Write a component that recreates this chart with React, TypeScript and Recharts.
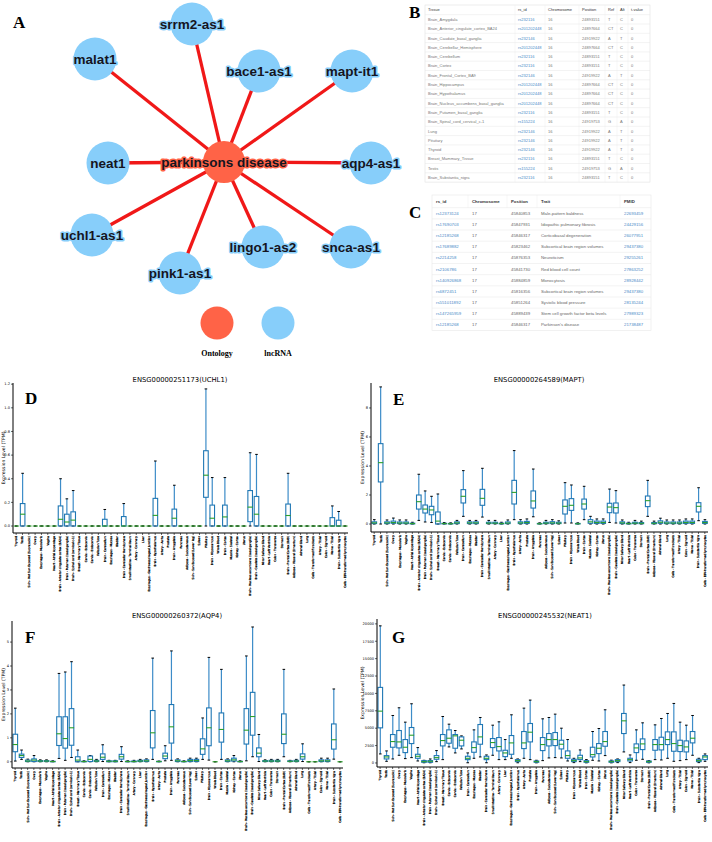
import React from 'react';
import { ComposedChart, Bar, XAxis, YAxis, ScatterChart, Scatter, Label } from 'recharts';

// ---------- Panel A: network ----------
const hubNode = { name: 'parkinsons disease', x: 224, y: 162, kind: 'ontology' };
const lncNodes = [
  { name: 'srrm2-as1', x: 192, y: 24 },
  { name: 'malat1', x: 95, y: 59 },
  { name: 'bace1-as1', x: 259, y: 71 },
  { name: 'mapt-it1', x: 352, y: 71 },
  { name: 'neat1', x: 108, y: 163 },
  { name: 'aqp4-as1', x: 371, y: 163 },
  { name: 'uchl1-as1', x: 92, y: 235 },
  { name: 'pink1-as1', x: 180, y: 273 },
  { name: 'lingo1-as2', x: 263, y: 247 },
  { name: 'snca-as1', x: 351, y: 247 },
];
const legendNodes = [
  { name: 'Ontology', x: 217, y: 323, kind: 'ontology' },
  { name: 'lncRNA', x: 278, y: 323, kind: 'lnc' },
];

// ---------- Panel B table ----------
const tableBHeader = ['Tissue', 'rs_id', 'Chromosome', 'Position', 'Ref', 'Alt', 't-value'];
const tissueB = ['Brain_Amygdala', 'Brain_Anterior_cingulate_cortex_BA24', 'Brain_Caudate_basal_ganglia', 'Brain_Cerebellar_Hemisphere', 'Brain_Cerebellum', 'Brain_Cortex', 'Brain_Frontal_Cortex_BA9', 'Brain_Hippocampus', 'Brain_Hypothalamus', 'Brain_Nucleus_accumbens_basal_ganglia', 'Brain_Putamen_basal_ganglia', 'Brain_Spinal_cord_cervical_c-1', 'Lung', 'Pituitary', 'Thyroid', 'Breast_Mammary_Tissue', 'Testis', 'Brain_Substantia_nigra'];
const rsB = ['rs232116', 'rs201202448', 'rs232146', 'rs201202448', 'rs232116', 'rs232116', 'rs232146', 'rs201202448', 'rs201202448', 'rs201202448', 'rs232116', 'rs155224', 'rs232146', 'rs232146', 'rs232146', 'rs232116', 'rs155224', 'rs232116'];
const chromB = ['16', '16', '16', '16', '16', '16', '16', '16', '16', '16', '16', '16', '16', '16', '16', '16', '16', '16'];
const posB = ['24893151', '24897664', '24919922', '24897664', '24893151', '24893151', '24919922', '24897664', '24897664', '24897664', '24893151', '24919753', '24919922', '24919922', '24919922', '24893151', '24919753', '24893151'];
const refB = ['T', 'CT', 'A', 'CT', 'T', 'T', 'A', 'CT', 'CT', 'CT', 'T', 'G', 'A', 'A', 'A', 'T', 'G', 'T'];
const altB = ['C', 'C', 'T', 'C', 'C', 'C', 'T', 'C', 'C', 'C', 'C', 'A', 'T', 'T', 'T', 'C', 'A', 'C'];
const tvalB = ['0', '0', '0', '0', '0', '0', '0', '0', '0', '0', '0', '0', '0', '0', '0', '0', '0', '0'];

// ---------- Panel C table ----------
const tableCHeader = ['rs_id', 'Chromosome', 'Position', 'Trait', 'PMID'];
const rsC = ['rs12373124', 'rs17690703', 'rs12185268', 'rs17689882', 'rs2214258', 'rs2106786', 'rs140926868', 'rs6872451', 'rs551011892', 'rs147265959', 'rs12185268'];
const chromC = ['17', '17', '17', '17', '17', '17', '17', '17', '17', '17', '17'];
const posC = ['45840853', '45847931', '45846317', '45823462', '45876353', '45841730', '45884859', '45816356', '45851264', '45889439', '45846317'];
const traitC = ['Male-pattern baldness', 'Idiopathic pulmonary fibrosis', 'Corticobasal degeneration', 'Subcortical brain region volumes', 'Neuroticism', 'Red blood cell count', 'Monocytosis', 'Subcortical brain region volumes', 'Systolic blood pressure', 'Stem cell growth factor beta levels', "Parkinson's disease"];
const pmidC = ['22693459', '24429156', '26077951', '29437380', '29255261', '27863252', '28928442', '29437380', '28135244', '27989323', '21738487'];

// ---------- Panels D-G: GTEx expression ----------
const tissues = ['Thyroid', 'Testis', 'Skin - Not Sun Exposed (Suprapubic)', 'Ovary', 'Esophagus - Muscularis', 'Vagina', 'Heart - Atrial Appendage', 'Brain - Anterior cingulate cortex (BA24)', 'Brain - Putamen (basal ganglia)', 'Brain - Spinal cord (cervical c-1)', 'Breast - Mammary Tissue', 'Cervix - Ectocervix', 'Cervix - Endocervix', 'Fallopian Tube', 'Brain - Cerebellum', 'Esophagus - Mucosa', 'Bladder', 'Brain - Cerebellar Hemisphere', 'Small Intestine - Terminal Ileum', 'Artery - Coronary', 'Liver', 'Esophagus - Gastroesophageal Junction', 'Brain - Hypothalamus', 'Artery - Aorta', 'Prostate', 'Brain - Amygdala', 'Pancreas', 'Adipose - Subcutaneous', 'Skin - Sun Exposed (Lower leg)', 'Spleen', 'Pituitary', 'Brain - Hippocampus', 'Whole Blood', 'Brain - Cortex', 'Muscle - Skeletal', 'Kidney - Cortex', 'Uterus', 'Brain - Nucleus accumbens (basal ganglia)', 'Brain - Caudate (basal ganglia)', 'Minor Salivary Gland', 'Heart - Left Ventricle', 'Colon - Transverse', 'Stomach', 'Brain - Frontal Cortex (BA9)', 'Adipose - Visceral (Omentum)', 'Adrenal Gland', 'Lung', 'Cells - Transformed fibroblasts', 'Artery - Tibial', 'Colon - Sigmoid', 'Nerve - Tibial', 'Brain - Substantia nigra', 'Cells - EBV-transformed lymphocytes'];

// [lower whisker, q1, median, q3, upper whisker]
const uchl1Stats = [
  [0, 0, 0, 0, 0], [0, 0, 0.10, 0.19, 0.446], [0, 0, 0, 0, 0], [0, 0, 0, 0, 0], [0, 0, 0, 0, 0],
  [0, 0, 0, 0, 0], [0, 0, 0, 0, 0], [0, 0, 0.057, 0.17, 0.40], [0, 0, 0.034, 0.10, 0.23], [0, 0, 0.05, 0.12, 0.30],
  [0, 0, 0, 0, 0], [0, 0, 0, 0, 0], [0, 0, 0, 0, 0], [0, 0, 0, 0, 0], [0, 0, 0, 0.057, 0.14],
  [0, 0, 0, 0, 0], [0, 0, 0, 0, 0], [0, 0, 0, 0.08, 0.19], [0, 0, 0, 0, 0], [0, 0, 0, 0, 0],
  [0, 0, 0, 0, 0], [0, 0, 0, 0, 0], [0, 0, 0.09, 0.234, 0.55], [0, 0, 0, 0, 0], [0, 0, 0, 0, 0],
  [0, 0, 0.066, 0.143, 0.345], [0, 0, 0, 0, 0], [0, 0, 0, 0, 0], [0, 0, 0, 0, 0], [0, 0, 0, 0, 0],
  [0, 0.243, 0.43, 0.637, 1.16], [0, 0, 0.066, 0.177, 0.41], [0, 0, 0, 0, 0], [0, 0, 0.077, 0.177, 0.41], [0, 0, 0, 0, 0],
  [0, 0, 0, 0, 0], [0, 0, 0, 0, 0], [0, 0.037, 0.16, 0.30, 0.62], [0, 0, 0.10, 0.25, 0.606], [0, 0, 0, 0, 0],
  [0, 0, 0, 0, 0], [0, 0, 0, 0, 0], [0, 0, 0, 0, 0], [0, 0, 0.089, 0.186, 0.446], [0, 0, 0, 0, 0],
  [0, 0, 0, 0, 0], [0, 0, 0, 0, 0], [0, 0, 0, 0, 0], [0, 0, 0, 0, 0], [0, 0, 0, 0, 0],
  [0, 0, 0, 0.071, 0.17], [0, 0, 0, 0.049, 0.123], [0, 0, 0, 0, 0],
];
const maptStats = [
  [0, 0.03, 0.08, 0.15, 0.3], [0, 2.9, 4.23, 5.54, 9.45], [0, 0.03, 0.08, 0.15, 0.28], [0, 0.05, 0.1, 0.2, 0.41], [0, 0.03, 0.07, 0.14, 0.28],
  [0, 0.03, 0.07, 0.14, 0.28], [0, 0.01, 0.03, 0.06, 0.12], [0.25, 1.03, 1.54, 2.0, 3.43], [0.14, 0.76, 1.03, 1.31, 2.28], [0.11, 0.64, 0.97, 1.22, 1.91],
  [0, 0, 0.2, 0.83, 2.07], [0, 0.01, 0.03, 0.05, 0.1], [0, 0.01, 0.02, 0.04, 0.08], [0, 0.03, 0.08, 0.15, 0.25], [0.53, 1.45, 1.91, 2.37, 3.68],
  [0, 0.03, 0.08, 0.15, 0.25], [0, 0.03, 0.08, 0.15, 0.25], [0.48, 1.29, 1.77, 2.39, 3.84], [0, 0.03, 0.06, 0.12, 0.25], [0, 0.03, 0.06, 0.12, 0.25],
  [0, 0.01, 0.03, 0.06, 0.12], [0, 0.03, 0.07, 0.14, 0.28], [0.3, 1.38, 2.18, 3.01, 5.06], [0, 0.03, 0.08, 0.15, 0.3], [0, 0.04, 0.1, 0.18, 0.35],
  [0.5, 1.1, 1.59, 2.28, 3.79], [0, 0.01, 0.02, 0.04, 0.08], [0, 0.03, 0.06, 0.12, 0.25], [0, 0.03, 0.08, 0.16, 0.3], [0, 0.03, 0.06, 0.12, 0.22],
  [0.07, 0.69, 1.22, 1.66, 2.85], [0.07, 0.94, 1.29, 1.75, 2.69], [0, 0.01, 0.02, 0.04, 0.08], [0.3, 1.03, 1.38, 1.72, 2.6], [0, 0.05, 0.15, 0.3, 0.53],
  [0, 0.04, 0.1, 0.2, 0.35], [0, 0.04, 0.1, 0.2, 0.35], [0.11, 0.78, 1.17, 1.43, 2.41], [0.07, 0.76, 1.13, 1.45, 2.3], [0, 0.03, 0.08, 0.15, 0.28],
  [0, 0.01, 0.03, 0.06, 0.12], [0, 0.03, 0.06, 0.12, 0.25], [0, 0.02, 0.05, 0.1, 0.2], [0.53, 1.2, 1.61, 1.93, 3.01], [0, 0.02, 0.05, 0.1, 0.2],
  [0, 0.05, 0.12, 0.22, 0.4], [0, 0.03, 0.07, 0.14, 0.28], [0, 0.03, 0.07, 0.14, 0.28], [0, 0.03, 0.07, 0.14, 0.28], [0, 0.04, 0.1, 0.2, 0.35],
  [0, 0.04, 0.1, 0.2, 0.35], [0.23, 0.83, 1.22, 1.47, 2.5], [0, 0.04, 0.1, 0.18, 0.3],
];
const aqp4Stats = [
  [0.03, 0.42, 0.72, 1.15, 2.24], [0.1, 0.18, 0.26, 0.32, 0.49], [0, 0.01, 0.03, 0.07, 0.11], [0, 0.01, 0.07, 0.12, 0.26], [0, 0.01, 0.03, 0.05, 0.08],
  [0, 0.01, 0.03, 0.05, 0.08], [0, 0, 0.01, 0.02, 0.04], [0.14, 0.68, 1.17, 1.88, 3.69], [0.06, 0.57, 0.97, 1.88, 3.75], [0.18, 0.69, 1.42, 2.22, 4.18],
  [0, 0, 0.07, 0.21, 0.49], [0, 0, 0.01, 0.02, 0.04], [0, 0.01, 0.1, 0.24, 0.26], [0, 0.01, 0.03, 0.06, 0.1], [0.01, 0.1, 0.19, 0.33, 0.71],
  [0, 0, 0.02, 0.04, 0.06], [0, 0, 0.02, 0.04, 0.06], [0.01, 0.11, 0.21, 0.31, 0.63], [0, 0, 0.01, 0.02, 0.04], [0, 0, 0.01, 0.03, 0.06],
  [0, 0.01, 0.03, 0.06, 0.1], [0, 0.01, 0.04, 0.08, 0.12], [0.1, 0.58, 1.21, 2.14, 4.33], [0, 0, 0.01, 0.02, 0.03], [0.04, 0.13, 0.24, 0.36, 0.67],
  [0.06, 0.78, 1.46, 2.39, 4.63], [0, 0.01, 0.04, 0.08, 0.12], [0, 0, 0.01, 0.02, 0.04], [0, 0.01, 0.05, 0.1, 0.15], [0, 0.01, 0.05, 0.1, 0.15],
  [0.1, 0.31, 0.54, 0.96, 1.83], [0.07, 0.67, 1.42, 2.25, 4.36], [0, 0, 0, 0, 0], [0.1, 0.82, 1.35, 2.04, 3.86], [0, 0.01, 0.04, 0.08, 0.12],
  [0, 0.03, 0.08, 0.15, 0.26], [0, 0, 0.01, 0.02, 0.04], [0.04, 0.74, 1.32, 2.22, 4.42], [0.21, 1.11, 1.89, 2.9, 5.63], [0.01, 0.21, 0.36, 0.58, 1.14],
  [0, 0.01, 0.03, 0.05, 0.08], [0, 0.01, 0.03, 0.06, 0.1], [0, 0.01, 0.03, 0.06, 0.1], [0.21, 0.76, 1.15, 2.0, 3.86], [0, 0.01, 0.02, 0.04, 0.06],
  [0, 0.01, 0.03, 0.06, 0.1], [0.01, 0.11, 0.21, 0.33, 0.75], [0, 0, 0, 0, 0], [0, 0, 0, 0, 0], [0, 0.01, 0.04, 0.08, 0.15],
  [0, 0.01, 0.04, 0.08, 0.15], [0.11, 0.53, 0.92, 1.58, 3.04], [0, 0, 0, 0, 0],
];
const neat1Stats = [
  [1298, 5048, 7452, 10866, 19712], [240, 577, 865, 1058, 1731], [577, 2260, 3077, 4087, 6827], [1106, 2164, 3029, 4664, 7933], [625, 1490, 2260, 3366, 5866],
  [769, 2789, 3991, 5097, 8510], [288, 673, 962, 1250, 2212], [30, 96, 192, 337, 385], [30, 96, 240, 337, 577], [192, 529, 769, 1058, 1779],
  [481, 2452, 3221, 4087, 6683], [2308, 2837, 3558, 4760, 5577], [1442, 2116, 3900, 4087, 4664], [2019, 2452, 3270, 3750, 3895], [30, 481, 673, 962, 1442],
  [673, 1539, 2212, 3029, 4760], [865, 2693, 3750, 5529, 6539], [30, 481, 673, 962, 1154], [1106, 2212, 2933, 3510, 5433], [481, 1731, 2356, 3654, 5914],
  [481, 914, 1442, 1827, 3366], [673, 1250, 2885, 3943, 6924], [30, 192, 337, 481, 577], [673, 2067, 2885, 4520, 7885], [481, 3029, 4424, 5674, 9039],
  [20, 96, 192, 288, 385], [337, 1779, 2645, 3654, 6347], [721, 2452, 3366, 4231, 6539], [769, 2500, 3366, 4375, 7020], [721, 2019, 2693, 3270, 5000],
  [288, 673, 1058, 1731, 3366], [50, 192, 337, 529, 673], [192, 481, 721, 1106, 1875], [20, 96, 192, 337, 481], [385, 865, 1202, 2260, 4520],
  [288, 1346, 2116, 2789, 4952], [1058, 2404, 3077, 4520, 7645], [20, 96, 192, 288, 400], [50, 192, 337, 481, 577], [1587, 4231, 6058, 7116, 11202],
  [50, 288, 481, 673, 1154], [385, 1490, 2164, 2741, 4760], [529, 1923, 2741, 3462, 5770], [20, 96, 192, 288, 337], [481, 1827, 2645, 3366, 5481],
  [433, 1875, 2645, 3702, 6395], [673, 2645, 3366, 4472, 7116], [240, 1683, 2789, 4472, 8558], [337, 1635, 2500, 3270, 5866], [481, 1587, 2308, 3173, 5433],
  [1106, 2885, 3558, 4520, 6827], [50, 192, 337, 529, 673], [240, 481, 865, 1058, 1298],
];

const uchl1Ticks = [0, 0.2, 0.4, 0.6, 0.8, 1.0, 1.2];
const maptTicks = [0, 2, 4, 6, 8];
const aqp4Ticks = [0, 1, 2, 3, 4, 5];
const neat1Ticks = [0, 2500, 5000, 7500, 10000, 12500, 15000, 17500, 20000];

// ---------- styles ----------
const BLUE_NODE = '#87cefa';
const ORANGE_NODE = '#ff6347';
const EDGE = '#f01818';
const BOX = '#1f77b4';
const WHISKER = '#3d8cc8';
const MEDIAN = '#2ca02c';
const SANS = 'Liberation Sans, Arial, sans-serif';
const SERIF = 'Liberation Serif, Times New Roman, serif';
const MPL = 'DejaVu Sans, sans-serif';

const EmptyShape = () => <g />;

const NodeShape = (props: any) => {
  const { cx, cy, payload } = props;
  if (cx == null || cy == null) return <g />;
  const isHub = payload.kind === 'ontology';
  const fill = isHub ? ORANGE_NODE : BLUE_NODE;
  const r = isHub ? 21 : 21.5;
  return (
    <g>
      <circle cx={cx} cy={cy} r={r} fill={fill} />
      <text x={cx} y={cy} textAnchor="middle" dominantBaseline="central" fontFamily={SANS} fontWeight="bold" fontSize={13.5}
        fill="#15151f" stroke={fill} strokeWidth={3} strokeLinejoin="round" style={{ paintOrder: 'stroke' }}>
        {payload.name}
      </text>
    </g>
  );
};

const LegendShape = (props: any) => {
  const { cx, cy, payload } = props;
  if (cx == null || cy == null) return <g />;
  const fill = payload.kind === 'ontology' ? ORANGE_NODE : BLUE_NODE;
  return (
    <g>
      <circle cx={cx} cy={cy} r={16.5} fill={fill} />
      <text x={cx} y={cy + 33} textAnchor="middle" fontFamily={SERIF} fontWeight="bold" fontSize={8} fill="#000">{payload.name}</text>
    </g>
  );
};

function NetworkChart() {
  return (
    <ScatterChart width={410} height={365} margin={{ top: 0, right: 0, bottom: 0, left: 0 }}>
      <XAxis type="number" dataKey="x" domain={[0, 410]} hide />
      <YAxis type="number" dataKey="y" domain={[0, 365]} reversed hide />
      {lncNodes.map((n) => (
        <Scatter key={'e' + n.name} data={[hubNode, n]} line={{ stroke: EDGE, strokeWidth: 3.3 }} shape={EmptyShape} isAnimationActive={false} />
      ))}
      <Scatter data={lncNodes.map((n) => ({ ...n, kind: 'lnc' }))} shape={NodeShape} isAnimationActive={false} />
      <Scatter data={[hubNode]} shape={NodeShape} isAnimationActive={false} />
      <Scatter data={legendNodes} shape={LegendShape} isAnimationActive={false} />
    </ScatterChart>
  );
}

const BoxShape = (props: any) => {
  const { x, y, width, height, payload } = props;
  if (x == null || y == null || !payload) return <g />;
  const cx = x + width / 2;
  const h = height || 0;
  const top = Math.min(y, y + h);
  const bot = Math.max(y, y + h);
  const { lo, q1, med, q3, hi } = payload;
  const py = (v: number) => (hi > lo ? bot - ((v - lo) / (hi - lo)) * (bot - top) : bot);
  const bw = 4.6;
  const cw = 2.6;
  const boxTop = py(q3);
  const boxBot = py(q1);
  return (
    <g>
      <line x1={cx} x2={cx} y1={py(hi)} y2={boxTop} stroke={WHISKER} strokeWidth={1.2} />
      <line x1={cx} x2={cx} y1={boxBot} y2={py(lo)} stroke={WHISKER} strokeWidth={1.2} />
      <line x1={cx - cw / 2} x2={cx + cw / 2} y1={py(hi)} y2={py(hi)} stroke="#000" strokeWidth={1} />
      <line x1={cx - cw / 2} x2={cx + cw / 2} y1={py(lo)} y2={py(lo)} stroke="#000" strokeWidth={1} />
      {boxBot - boxTop > 0.01 && (
        <rect x={cx - bw / 2} y={boxTop} width={bw} height={boxBot - boxTop} fill="none" stroke={BOX} strokeWidth={1.1} />
      )}
      <line x1={cx - bw / 2 - 0.3} x2={cx + bw / 2 + 0.3} y1={py(med)} y2={py(med)} stroke={MEDIAN} strokeWidth={1.1} />
    </g>
  );
};

const XTick = (props: any) => {
  const { x, y, payload } = props;
  return (
    <text x={x} y={y} transform={`rotate(-90 ${x} ${y})`} textAnchor="end" dominantBaseline="central"
      fontSize={2.8} fontFamily={MPL} fill="#000" stroke="#000" strokeWidth={0.22}>
      {payload.value}
    </text>
  );
};

type PanelProps = {
  stats: number[][];
  width: number;
  height: number;
  marginTop: number;
  marginRight: number;
  yAxisWidth: number;
  xAxisHeight: number;
  domain: [number, number];
  ticks: number[];
  fmt: (v: number) => string;
  labelX: number;
};

function BoxPanel(p: PanelProps) {
  const data = tissues.map((t, i) => {
    const s = p.stats[i];
    return { name: t, lo: s[0], q1: s[1], med: s[2], q3: s[3], hi: s[4] };
  });
  return (
    <ComposedChart width={p.width} height={p.height} data={data}
      margin={{ top: p.marginTop, right: p.marginRight, bottom: 0, left: 0 }}>
      <XAxis dataKey="name" interval={0} height={p.xAxisHeight} tick={<XTick />} tickSize={2} tickMargin={1}
        axisLine={{ stroke: '#000', strokeWidth: 1 }} tickLine={{ stroke: '#000', strokeWidth: 0.6 }} />
      <XAxis xAxisId="top" orientation="top" dataKey="name" height={0} tick={false} tickLine={false}
        axisLine={{ stroke: '#000', strokeWidth: 1 }} />
      <YAxis type="number" domain={p.domain} allowDataOverflow ticks={p.ticks} tickFormatter={p.fmt} width={p.yAxisWidth}
        tickSize={2} tickMargin={1} tick={{ fontSize: 3.6, fill: '#000', fontFamily: MPL }}
        axisLine={{ stroke: '#000', strokeWidth: 1 }} tickLine={{ stroke: '#000', strokeWidth: 0.6 }}>
        <Label content={(lp: any) => {
          const vb = lp.viewBox || { y: 0, height: 0 };
          const cy = vb.y + vb.height / 2;
          return (
            <text x={p.labelX} y={cy} transform={`rotate(-90 ${p.labelX} ${cy})`} textAnchor="middle" dominantBaseline="central"
              fontSize={4.6} fontFamily={MPL} fill="#000">Expression Level (TPM)</text>
          );
        }} />
      </YAxis>
      <YAxis yAxisId="right" orientation="right" type="number" domain={[0, 1]} width={0} tick={false} tickLine={false}
        axisLine={{ stroke: '#000', strokeWidth: 1 }} />
      <Bar dataKey={(d: any) => [d.lo, d.hi]} barSize={4.6} shape={BoxShape} isAnimationActive={false} />
    </ComposedChart>
  );
}

function Overlay() {
  const bCols = [425, 515, 545, 579, 605, 617, 628, 650];
  const bTop = 5;
  const bHead = 14.7;
  const bRow = 9.3;
  const bRows = tissueB.map((t, i) => [t, rsB[i], chromB[i], posB[i], refB[i], altB[i], tvalB[i]]);
  const cCols = [432, 468, 507, 537, 620, 651];
  const cTop = 195;
  const cHead = 207.7;
  const cRow = 11.16;
  const cRows = rsC.map((r, i) => [r, chromC[i], posC[i], traitC[i], pmidC[i]]);
  const letter = (t: string, x: number, y: number) => (
    <text x={x} y={y} fontFamily={SERIF} fontWeight="bold" fontSize={17} fill="#000">{t}</text>
  );
  const title = (t: string, x: number, y: number) => (
    <text x={x} y={y} textAnchor="middle" fontFamily={MPL} fontSize={6.8} fill="#000">{t}</text>
  );
  return (
    <svg width={712} height={842} style={{ position: 'absolute', left: 0, top: 0, pointerEvents: 'none' }}>
      {/* table B */}
      <rect x={bCols[0]} y={bTop} width={bCols[bCols.length - 1] - bCols[0]} height={bHead + bRow * 18 - bTop} fill="none" stroke="#e2e2e2" strokeWidth={0.6} />
      {bCols.slice(1, -1).map((c) => (
        <line key={'bv' + c} x1={c} x2={c} y1={bTop} y2={bHead + bRow * 18} stroke="#ececec" strokeWidth={0.5} />
      ))}
      {Array.from({ length: 18 }).map((_, i) => (
        <line key={'bh' + i} x1={bCols[0]} x2={bCols[bCols.length - 1]} y1={bHead + bRow * i} y2={bHead + bRow * i} stroke="#e6e6e6" strokeWidth={0.5} />
      ))}
      {tableBHeader.map((h, j) => (
        <text key={'bhd' + j} x={bCols[j] + 3} y={11.3} fontSize={4} fontFamily={SANS} fill="#333">{h}</text>
      ))}
      {bRows.map((row, i) => row.map((v, j) => (
        <text key={'b' + i + '-' + j} x={bCols[j] + 3} y={bHead + bRow * i + 6.2} fontSize={4} fontFamily={SANS} fill={j === 1 ? '#4a8ac7' : '#777'}>{v}</text>
      )))}
      {/* table C */}
      <rect x={cCols[0]} y={cTop} width={cCols[cCols.length - 1] - cCols[0]} height={cHead + cRow * 11 - cTop} fill="none" stroke="#e8e8e8" strokeWidth={0.6} />
      {cCols.slice(1, -1).map((c) => (
        <line key={'cv' + c} x1={c} x2={c} y1={cTop} y2={cHead} stroke="#efefef" strokeWidth={0.5} />
      ))}
      {Array.from({ length: 11 }).map((_, i) => (
        <line key={'ch' + i} x1={cCols[0]} x2={cCols[cCols.length - 1]} y1={cHead + cRow * i} y2={cHead + cRow * i} stroke="#e6e6e6" strokeWidth={0.5} />
      ))}
      {tableCHeader.map((h, j) => (
        <text key={'chd' + j} x={cCols[j] + 4} y={203.3} fontSize={4.3} fontFamily={SANS} fill="#333" fontWeight="bold">{h}</text>
      ))}
      {cRows.map((row, i) => row.map((v, j) => (
        <text key={'c' + i + '-' + j} x={cCols[j] + 4} y={cHead + cRow * i + 7.1} fontSize={4.3} fontFamily={SANS}
          fill={j === 0 || j === 4 ? '#4a8ac7' : '#666'}>{v}</text>
      )))}
      {letter('A', 13, 28)}
      {letter('B', 409, 18)}
      {letter('C', 409, 218)}
      {letter('D', 25, 404)}
      {letter('E', 393, 405)}
      {letter('F', 25, 642.5)}
      {letter('G', 392, 643)}
      {title('ENSG00000251173(UCHL1)', 180, 381.5)}
      {title('ENSG00000264589(MAPT)', 539, 381.5)}
      {title('ENSG00000260372(AQP4)', 177, 618)}
      {title('ENSG00000245532(NEAT1)', 545, 617.5)}
    </svg>
  );
}

export default function App() {
  return (
    <div style={{ position: 'absolute', left: 0, top: 0, width: 712, height: 842, background: '#fff', overflow: 'hidden' }}>
      <div style={{ position: 'absolute', left: 0, top: 0 }}>
        <NetworkChart />
      </div>
      <div style={{ position: 'absolute', left: 0, top: 370 }}>
        <BoxPanel stats={uchl1Stats} width={356} height={250} marginTop={13} marginRight={8} yAxisWidth={13} xAxisHeight={87}
          domain={[-0.059, 1.21]} ticks={uchl1Ticks} fmt={(v) => v.toFixed(1)} labelX={3.5} />
      </div>
      <div style={{ position: 'absolute', left: 356, top: 370 }}>
        <BoxPanel stats={maptStats} width={356} height={250} marginTop={13} marginRight={4} yAxisWidth={15} xAxisHeight={88}
          domain={[-0.55, 9.72]} ticks={maptTicks} fmt={(v) => String(v)} labelX={6} />
      </div>
      <div style={{ position: 'absolute', left: 0, top: 608 }}>
        <BoxPanel stats={aqp4Stats} width={356} height={234} marginTop={13} marginRight={13} yAxisWidth={12} xAxisHeight={74}
          domain={[-0.26, 5.88]} ticks={aqp4Ticks} fmt={(v) => String(v)} labelX={3.5} />
      </div>
      <div style={{ position: 'absolute', left: 356, top: 606 }}>
        <BoxPanel stats={neat1Stats} width={356} height={236} marginTop={13} marginRight={4} yAxisWidth={21} xAxisHeight={75}
          domain={[-580, 20700]} ticks={neat1Ticks} fmt={(v) => String(v)} labelX={6} />
      </div>
      <Overlay />
    </div>
  );
}
